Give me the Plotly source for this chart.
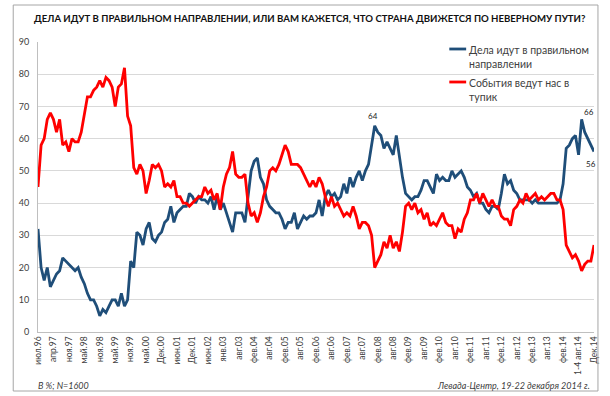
import plotly.graph_objects as go

tick_labels = ["июл.96","апр.97","ноя.97","май.98","ноя.98","май.99","ноя.99","май.00","Дек.00","июн.01",
               "Дек.01","июн.02","янв.03","авг.03","фев.04","авг.04","фев.05","авг.05","фев.06","авг.06",
               "фев.07","авг.07","фев.08","авг.08","фев.09","авг.09","фев.10","авг.10","фев.11","авг.11",
               "фев.12","авг.12","фев.13","авг.13","фев.14","1-4 авг.14","Дек.14"]

right_direction = [32,20,16,20,14,16,18,19,23,22,21,20,19,20,17,15,12,10,10,8,
                   5,7,6,8,10,10,8,12,8,10,22,20,31,30,27,32,34,29,28,30,
                   31,34,35,39,34,37,38,39,39,43,42,40,42,41,41,40,42,38,42,38,
                   40,37,34,31,37,37,37,34,43,50,53,54,48,46,41,39,38,37,37,35,
                   32,34,34,37,32,34,36,35,36,36,37,41,36,42,44,42,43,41,42,46,
                   43,48,45,48,50,47,50,52,58,64,62,61,57,59,57,55,61,54,48,43,
                   42,41,42,42,44,47,47,45,43,49,47,48,47,47,50,48,49,50,48,45,
                   44,42,43,40,40,38,37,39,39,38,43,49,46,47,44,43,41,41,41,41,
                   40,41,40,40,40,40,40,40,40,41,46,57,58,60,61,55,66,62,60,58,
                   56]

dead_end = [45,58,60,66,68,66,62,66,58,59,56,60,59,59,62,67,73,73,75,76,
            78,76,79,78,76,70,76,77,82,67,64,51,49,52,50,43,47,52,51,52,
            50,45,46,45,47,42,42,40,40,39,40,41,42,42,45,43,44,41,43,38,
            45,49,51,56,49,48,48,49,40,36,37,34,37,42,45,50,51,50,52,55,
            58,56,52,52,52,51,49,47,45,47,45,48,46,42,39,42,39,40,38,36,
            37,36,39,36,32,34,34,33,30,20,22,24,28,26,30,26,28,25,31,39,
            40,38,40,37,38,35,37,33,34,33,35,37,34,33,33,29,32,31,35,37,
            41,41,43,40,43,41,39,41,39,39,36,35,35,33,38,39,41,40,43,41,
            42,43,41,42,41,42,43,43,41,41,38,27,25,23,24,22,19,21,22,22,
            27]

series_names = ["Дела идут в правильном<br>направлении", "События ведут нас в<br>тупик"]
BLUE = "#1F4E79"
RED = "#FF0000"

x = list(range(len(right_direction)))
step = (len(right_direction) - 1) / (len(tick_labels) - 1)
tickvals = [i * step for i in range(len(tick_labels))]

fig = go.Figure()
fig.add_trace(go.Scatter(x=x, y=right_direction, mode="lines",
                         line=dict(color=BLUE, width=2.8), name=series_names[0]))
fig.add_trace(go.Scatter(x=x, y=dead_end, mode="lines",
                         line=dict(color=RED, width=2.8), name=series_names[1]))

FONT = "Lato"
TXT = "#404040"

annotations = []
annotations.append(dict(text="<b>ДЕЛА ИДУТ В ПРАВИЛЬНОМ НАПРАВЛЕНИИ, ИЛИ ВАМ КАЖЕТСЯ, ЧТО СТРАНА ДВИЖЕТСЯ ПО НЕВЕРНОМУ ПУТИ?</b>",
                        xref="paper", yref="paper", x=(312 - 38) / 561, y=(332 - 18) / 290,
                        xanchor="center", yanchor="middle",
                        showarrow=False, font=dict(family=FONT, size=9.6, color="#111111")))
for name, py in [(series_names[0], 49), (series_names[1], 82)]:
    yp = (332 - py) / 290
    annotations.append(dict(text=name, xref="paper", yref="paper", x=(471 - 38) / 561, y=yp + 7 / 290,
                            xanchor="left", yanchor="top", align="left", showarrow=False,
                            font=dict(family=FONT, size=10.5, color=TXT)))

k64 = right_direction.index(max(right_direction[:130]))
k66 = right_direction.index(max(right_direction))
kend = len(right_direction) - 1
for k, xs, ys in [(k64, -2, 10), (k66, 7, 7), (kend, -3, -12)]:
    annotations.append(dict(text=str(right_direction[k]), x=k, y=right_direction[k], xref="x", yref="y",
                            showarrow=False, xshift=xs, yshift=ys,
                            font=dict(family=FONT, size=8, color="#222222")))
annotations.append(dict(text="<i>В %; N=1600</i>", xref="paper", yref="paper", x=-0.004, y=(332 - 385) / 290,
                        xanchor="left", yanchor="middle", showarrow=False,
                        font=dict(family=FONT, size=9, color=TXT)))
annotations.append(dict(text="<i>Левада-Центр, 19-22 декабря 2014 г.</i>", xref="paper", yref="paper",
                        x=(597 - 38) / 561, y=(332 - 385) / 290, xanchor="right", yanchor="middle",
                        showarrow=False, font=dict(family=FONT, size=9, color=TXT)))

shapes = [dict(type="rect", xref="paper", yref="paper", x0=-25 / 561, x1=565 / 561,
               y0=-59 / 290, y1=327 / 290, line=dict(color="#A6A6A6", width=1), layer="above")]
for col, py in [(BLUE, 49), (RED, 82)]:
    yp = (332 - py) / 290
    shapes.append(dict(type="line", xref="paper", yref="paper", x0=(453 - 38) / 561, x1=(470 - 38) / 561,
                       y0=yp, y1=yp, line=dict(color=col, width=2.8)))

fig.update_layout(
    width=610, height=396,
    margin=dict(l=38, r=11, t=42, b=64),
    paper_bgcolor="white", plot_bgcolor="white",
    showlegend=False,
    font=dict(family=FONT, color=TXT),
    annotations=annotations, shapes=shapes,
    xaxis=dict(range=[0, len(right_direction) - 1], tickmode="array", tickvals=tickvals, ticktext=tick_labels,
               tickangle=-90, tickfont=dict(family=FONT, size=8.5, color=TXT), showgrid=False,
               showline=True, linecolor="#BFBFBF", linewidth=1, ticks="", zeroline=False),
    yaxis=dict(range=[0, 90], dtick=10, tickfont=dict(family=FONT, size=9, color=TXT),
               showgrid=True, gridcolor="#D9D9D9", gridwidth=1, showline=True, linecolor="#BFBFBF",
               linewidth=1, ticks="", zeroline=False, ticklabelstandoff=6),
)

fig.write_html("out.html", config={"displayModeBar": False},
               post_script="document.body.style.margin='0';document.body.style.padding='0';document.body.style.overflow='hidden';")
